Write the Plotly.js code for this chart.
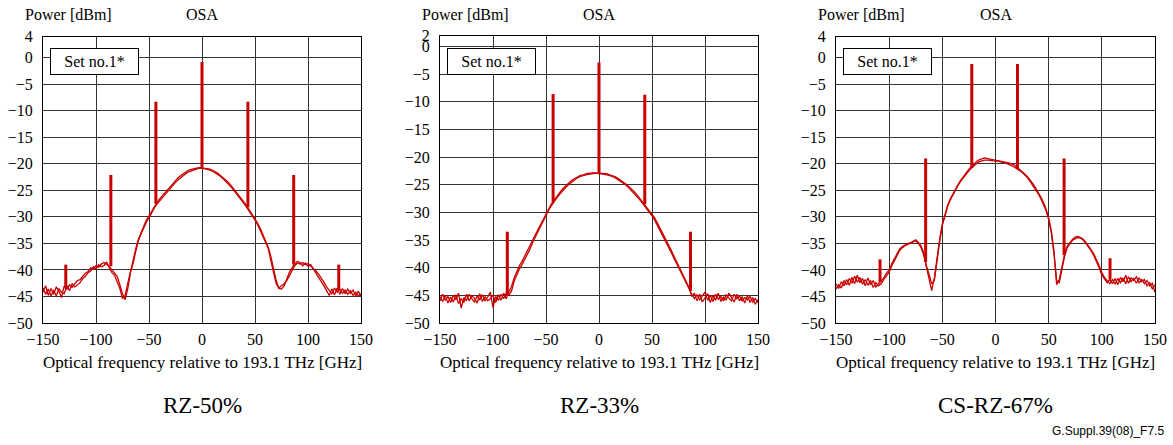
<!DOCTYPE html>
<html>
<head>
<meta charset="utf-8">
<script src="https://cdn.plot.ly/plotly-3.0.1.min.js"></script>
<style>html,body{margin:0;padding:0;background:#fff;}#chart{width:1173px;height:445px;}</style>
</head>
<body>
<div id="chart"></div>
<script>
// ---- Data ----
const freqGHz = [-150,-147.5,-145,-142.5,-140,-137.5,-135,-132.5,-130,-127.5,-125,-122.5,-120,-117.5,-115,-112.5,-110,-107.5,-105,-102.5,-100,-97.5,-95,-92.5,-90,-87.5,-85,-82.5,-80,-77.5,-75,-72.5,-70,-67.5,-65,-62.5,-60,-57.5,-55,-52.5,-50,-47.5,-45,-42.5,-40,-37.5,-35,-32.5,-30,-27.5,-25,-22.5,-20,-17.5,-15,-12.5,-10,-7.5,-5,-2.5,0,2.5,5,7.5,10,12.5,15,17.5,20,22.5,25,27.5,30,32.5,35,37.5,40,42.5,45,47.5,50,52.5,55,57.5,60,62.5,65,67.5,70,72.5,75,77.5,80,82.5,85,87.5,90,92.5,95,97.5,100,102.5,105,107.5,110,112.5,115,117.5,120,122.5,125,127.5,130,132.5,135,137.5,140,142.5,145,147.5,150];

// RZ-50%
const rz50A = [-44.2,-43.0,-44.8,-43.5,-44.6,-43.2,-44.0,-45.2,-43.0,-43.6,-42.8,-43.3,-42.6,-42.0,-41.8,-41.2,-40.6,-40.3,-39.6,-39.8,-39.2,-39.5,-38.9,-38.6,-38.9,-39.3,-40.0,-40.6,-41.2,-42.8,-44.5,-45.6,-43.5,-40.5,-38.8,-36.5,-34.5,-33.2,-32.0,-31.0,-30.2,-29.2,-28.3,-27.6,-27.0,-26.3,-25.8,-25.2,-24.6,-24.0,-23.5,-23.0,-22.6,-22.1,-21.8,-21.5,-21.3,-21.1,-20.9,-20.8,-20.8,-20.9,-21.0,-21.2,-21.4,-21.7,-22.0,-22.4,-22.8,-23.3,-23.8,-24.4,-25.0,-25.6,-26.3,-26.9,-27.6,-28.3,-29.0,-29.8,-30.6,-31.5,-32.5,-33.6,-34.8,-36.0,-38.0,-40.5,-42.6,-43.4,-43.0,-42.6,-42.0,-41.0,-40.0,-39.2,-38.7,-38.9,-38.6,-39.0,-38.8,-39.3,-39.6,-40.2,-40.8,-41.5,-42.3,-43.2,-43.8,-44.5,-43.4,-44.2,-43.6,-44.4,-43.8,-44.6,-43.9,-44.8,-44.2,-44.9,-44.5];
const rz50B = [-43.4,-44.6,-43.6,-44.9,-43.8,-44.9,-43.5,-44.2,-44.5,-43.0,-43.9,-42.6,-43.2,-42.8,-42.4,-41.6,-41.2,-40.5,-40.2,-39.4,-39.8,-39.0,-39.4,-39.2,-38.5,-39.6,-40.5,-41.0,-42.2,-43.5,-45.4,-44.8,-42.5,-40.0,-38.2,-36.0,-34.2,-33.0,-31.7,-30.6,-29.8,-28.9,-28.1,-27.3,-26.6,-26.0,-25.4,-24.8,-24.2,-23.6,-23.1,-22.6,-22.2,-21.8,-21.5,-21.2,-21.0,-20.9,-20.8,-20.7,-20.8,-20.8,-20.9,-21.0,-21.2,-21.5,-21.8,-22.2,-22.6,-23.0,-23.5,-24.1,-24.7,-25.3,-26.0,-26.6,-27.3,-28.0,-28.8,-29.5,-30.3,-31.2,-32.2,-33.3,-34.5,-35.7,-37.5,-40.0,-42.0,-43.5,-43.6,-43.0,-41.8,-40.4,-39.6,-38.8,-38.4,-38.6,-39.2,-38.7,-39.3,-39.0,-39.8,-40.6,-41.4,-42.0,-43.0,-43.9,-44.8,-43.6,-44.7,-43.4,-44.6,-43.5,-44.5,-43.6,-44.4,-43.8,-44.9,-44.0,-45.0];
const rz50SpikeX = [-128.5,-86,-43.5,0,43.3,86.5,129];
const rz50SpikeTop = [-39,-22.1,-8.3,-0.8,-8.3,-22.1,-39];
const rz50SpikeBase = [-43.5,-39.3,-27.5,-20.8,-28.2,-39.0,-43.8];

// RZ-33%
const rz33A = [-46.0,-44.8,-45.9,-45.2,-46.3,-45.0,-45.8,-44.6,-47.3,-45.4,-45.9,-44.8,-45.6,-46.2,-45.1,-45.8,-44.9,-46.0,-45.3,-44.4,-47.2,-45.2,-45.9,-44.8,-45.6,-44.6,-45.0,-44.2,-42.4,-41.2,-40.2,-39.4,-38.5,-37.6,-36.6,-35.4,-34.4,-33.5,-32.5,-31.5,-30.5,-29.6,-28.8,-28.0,-27.4,-26.8,-26.2,-25.7,-25.2,-24.8,-24.4,-24.0,-23.7,-23.5,-23.3,-23.2,-23.1,-23.0,-23.0,-22.9,-23.0,-23.0,-23.1,-23.2,-23.3,-23.5,-23.7,-24.0,-24.3,-24.6,-25.0,-25.4,-25.9,-26.4,-26.9,-27.5,-28.1,-28.7,-29.3,-30.0,-30.6,-31.4,-32.3,-33.2,-34.1,-35.0,-36.0,-37.0,-38.0,-39.0,-40.0,-41.0,-42.0,-43.0,-43.9,-44.8,-45.6,-44.9,-45.8,-45.2,-44.4,-45.9,-45.0,-46.1,-44.8,-45.7,-45.2,-46.0,-44.9,-45.5,-46.0,-44.8,-45.6,-45.1,-46.0,-45.4,-45.8,-45.2,-46.2,-45.6,-46.3];
const rz33B = [-45.2,-46.1,-45.0,-46.4,-45.3,-46.2,-44.9,-46.5,-45.6,-46.3,-44.8,-46.0,-45.1,-45.5,-46.4,-44.7,-46.1,-45.2,-46.0,-45.6,-45.0,-46.3,-44.9,-45.9,-44.6,-45.6,-44.4,-43.4,-41.8,-40.6,-39.6,-38.8,-37.9,-37.0,-36.0,-35.0,-34.0,-33.1,-32.1,-31.1,-30.2,-29.3,-28.5,-27.8,-27.1,-26.5,-25.9,-25.4,-24.9,-24.5,-24.1,-23.8,-23.5,-23.3,-23.2,-23.0,-22.9,-22.9,-22.8,-22.9,-22.9,-22.9,-23.0,-23.0,-23.2,-23.3,-23.5,-23.8,-24.1,-24.4,-24.8,-25.2,-25.6,-26.1,-26.6,-27.2,-27.8,-28.4,-29.0,-29.7,-30.3,-31.0,-31.9,-32.8,-33.7,-34.6,-35.6,-36.6,-37.6,-38.6,-39.6,-40.6,-41.6,-42.6,-43.6,-45.2,-44.6,-46.0,-44.8,-46.2,-45.5,-44.7,-46.3,-45.0,-45.9,-44.6,-46.1,-45.3,-45.8,-44.6,-45.4,-46.2,-44.8,-46.0,-45.2,-46.4,-45.0,-46.3,-45.4,-46.6,-45.8];
const rz33SpikeX = [-86.5,-43.3,0,43.2,86.3];
const rz33SpikeTop = [-33.5,-8.6,-2.9,-8.7,-33.5];
const rz33SpikeBase = [-45.0,-28.1,-23.0,-28.5,-44.2];

// CS-RZ-67%
const csrzA = [-42.6,-43.5,-42.2,-43.0,-41.8,-42.9,-41.4,-42.6,-41.0,-42.4,-41.6,-43.0,-41.5,-42.8,-42.0,-43.2,-42.6,-42.0,-41.5,-40.6,-40.0,-38.8,-37.8,-36.8,-36.0,-35.6,-35.3,-35.0,-34.9,-34.6,-34.3,-34.8,-35.5,-36.8,-39.2,-40.8,-42.6,-42.0,-38.0,-34.6,-31.6,-29.6,-28.0,-26.8,-25.8,-24.9,-24.0,-23.2,-22.5,-21.9,-21.3,-20.8,-20.3,-19.9,-19.6,-19.4,-19.3,-19.3,-19.4,-19.5,-19.5,-19.5,-19.6,-19.7,-19.9,-20.1,-20.3,-20.6,-20.9,-21.2,-21.6,-22.1,-22.6,-23.3,-24.0,-24.8,-25.6,-26.5,-27.5,-28.8,-30.5,-33.0,-37.0,-42.0,-42.4,-39.8,-37.4,-35.8,-35.0,-34.4,-34.1,-33.9,-34.0,-34.4,-35.0,-35.6,-36.4,-37.3,-38.4,-39.6,-41.0,-41.8,-42.4,-41.8,-42.6,-41.6,-42.8,-41.4,-42.2,-41.0,-42.5,-41.5,-42.0,-41.3,-42.4,-41.8,-42.6,-42.0,-43.0,-42.5,-44.2];
const csrzB = [-43.6,-42.8,-43.4,-42.0,-42.8,-41.6,-42.5,-41.2,-42.3,-41.4,-42.7,-41.8,-42.9,-42.0,-43.3,-42.4,-43.0,-42.6,-41.8,-41.0,-40.4,-39.2,-38.2,-37.2,-36.3,-35.8,-35.4,-35.2,-35.0,-34.7,-34.5,-35.0,-35.8,-37.2,-39.6,-41.4,-43.9,-41.5,-37.4,-34.2,-31.3,-29.3,-27.8,-26.6,-25.6,-24.7,-23.8,-23.0,-22.3,-21.6,-21.0,-20.5,-20.0,-19.5,-19.2,-19.0,-18.9,-19.0,-19.1,-19.2,-19.3,-19.3,-19.4,-19.5,-19.6,-19.8,-20.0,-20.2,-20.6,-21.0,-21.4,-21.9,-22.4,-23.0,-23.7,-24.5,-25.3,-26.2,-27.2,-28.5,-30.2,-32.6,-36.5,-42.8,-41.8,-39.2,-37.0,-35.5,-34.8,-34.2,-33.8,-33.7,-33.9,-34.2,-34.8,-35.4,-36.2,-37.0,-38.0,-39.2,-40.5,-41.4,-42.0,-42.6,-41.8,-42.7,-41.6,-42.4,-41.5,-42.6,-41.3,-42.2,-41.6,-42.5,-41.5,-42.2,-41.8,-43.0,-42.4,-43.6,-42.8];
const csrzSpikeX = [-108.6,-65.7,-22.3,20.7,64.5,107.7];
const csrzSpikeTop = [-38,-19,-1.2,-1.2,-19,-37.8];
const csrzSpikeBase = [-42.3,-38.5,-20.8,-21.0,-37.2,-41.8];

const panelNames = ["RZ-50%", "RZ-33%", "CS-RZ-67%"];
const xTickVals = [-150,-100,-50,0,50,100,150];
const xTickText = ["\u2212150","\u2212100","\u221250","0","50","100","150"];
const yTickVals1 = [4,0,-5,-10,-15,-20,-25,-30,-35,-40,-45,-50];
const yTickVals2 = [2,0,-5,-10,-15,-20,-25,-30,-35,-40,-45,-50];
const yTop = [4, 2, 4];

// ---- Build ----
const RED = "#c80000";
const SERIF = "'Liberation Serif', 'Times New Roman', serif";
const W = 1173, H = 445;
const panels = [
  {a: rz50A, b: rz50B, sx: rz50SpikeX, st: rz50SpikeTop, sb: rz50SpikeBase, ticks: yTickVals1, left: 43, right: 361, top: 36.5},
  {a: rz33A, b: rz33B, sx: rz33SpikeX, st: rz33SpikeTop, sb: rz33SpikeBase, ticks: yTickVals2, left: 440, right: 758, top: 35.5},
  {a: csrzA, b: csrzB, sx: csrzSpikeX, st: csrzSpikeTop, sb: csrzSpikeBase, ticks: yTickVals1, left: 836, right: 1155, top: 36.5}
];
const plotBottom = 323;

const traces = [];
const layout = {
  width: W, height: H,
  margin: {l: 0, r: 0, t: 0, b: 0},
  paper_bgcolor: "#fff", plot_bgcolor: "#fff",
  showlegend: false,
  font: {family: SERIF, size: 16, color: "#000"},
  annotations: []
};

panels.forEach((p, i) => {
  const n = i === 0 ? "" : String(i + 1);
  const xa = "x" + n, ya = "y" + n;
  [p.a, p.b].forEach(vals => {
    traces.push({type: "scatter", mode: "lines", x: freqGHz, y: vals, xaxis: xa, yaxis: ya,
      line: {color: RED, width: 1.3}, hoverinfo: "skip"});
  });
  const sxArr = [], syArr = [];
  p.sx.forEach((sx, k) => { sxArr.push(sx, sx, null); syArr.push(p.sb[k], p.st[k], null); });
  traces.push({type: "scatter", mode: "lines", x: sxArr, y: syArr, xaxis: xa, yaxis: ya,
    line: {color: RED, width: 3}, connectgaps: false, hoverinfo: "skip"});

  const dom = [p.left / W, p.right / W];
  layout["xaxis" + n] = {
    domain: dom, anchor: ya, range: [-150, 150], tickvals: xTickVals, ticktext: xTickText,
    showgrid: true, gridcolor: "#333", gridwidth: 1, zeroline: false,
    showline: true, mirror: true, linecolor: "#000", linewidth: 1,
    ticks: "", ticklabelstandoff: 2, automargin: false,
    tickfont: {family: SERIF, size: 16, color: "#000"}
  };
  layout["yaxis" + n] = {
    domain: [1 - plotBottom / H, 1 - p.top / H], anchor: xa, range: [-50, yTop[i]], tickvals: p.ticks,
    ticktext: p.ticks.map(v => v < 0 ? "\u2212" + Math.abs(v) : String(v)),
    showgrid: true, gridcolor: "#333", gridwidth: 1, zeroline: false,
    showline: true, mirror: true, linecolor: "#000", linewidth: 1,
    ticks: "", ticklabelstandoff: 6, automargin: false,
    tickfont: {family: SERIF, size: 16, color: "#000"}
  };
  const cx = (p.left + p.right) / 2 / W;
  layout.annotations.push(
    {xref: "paper", yref: "paper", x: (p.left - 20) / W, y: 1 - 15 / H, xanchor: "left", yanchor: "middle",
      text: "Power [dBm]", showarrow: false, font: {family: SERIF, size: 16, color: "#000"}},
    {xref: "paper", yref: "paper", x: cx, y: 1 - 15 / H, xanchor: "center", yanchor: "middle",
      text: "OSA", showarrow: false, font: {family: SERIF, size: 16, color: "#000"}},
    {xref: "paper", yref: "paper", x: (p.left + 7) / W, y: 1 - 47.5 / H, xanchor: "left", yanchor: "top",
      text: "Set no.1*", showarrow: false, bgcolor: "#fff", bordercolor: "#000", borderwidth: 1,
      borderpad: 2, width: 83, height: 21, font: {family: SERIF, size: 16, color: "#000"}},
    {xref: "paper", yref: "paper", x: cx, y: 1 - 362 / H, xanchor: "center", yanchor: "middle",
      text: "Optical frequency relative to 193.1 THz [GHz]", showarrow: false,
      font: {family: SERIF, size: 17, color: "#000"}},
    {xref: "paper", yref: "paper", x: cx, y: 1 - 405 / H, xanchor: "center", yanchor: "middle",
      text: panelNames[i], showarrow: false, font: {family: SERIF, size: 23, color: "#000"}}
  );
});
layout.annotations.push({xref: "paper", yref: "paper", x: 1166 / W, y: 1 - 431 / H, xanchor: "right", yanchor: "middle",
  text: "G.Suppl.39(08)_F7.5", showarrow: false, font: {family: "'Liberation Sans', Arial, sans-serif", size: 12, color: "#000"}});

Plotly.newPlot("chart", traces, layout, {staticPlot: true, displayModeBar: false});
</script>
</body>
</html>
